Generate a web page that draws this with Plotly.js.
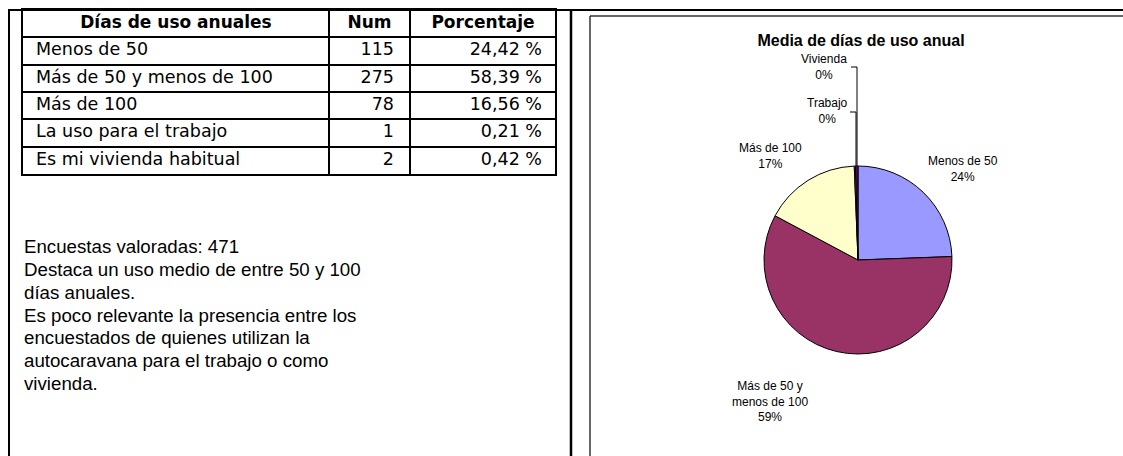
<!DOCTYPE html>
<html>
<head>
<meta charset="utf-8">
<script src="https://cdn.plot.ly/plotly-3.0.1.min.js"></script>
<style>html,body{margin:0;padding:0;background:#fff;}#chart{width:1123px;height:456px;}</style>
</head>
<body>
<div id="chart"></div>
<script>
// ---- data ----
var tableHeader = ["Días de uso anuales", "Num", "Porcentaje"];
var tableCategories = ["Menos de 50", "Más de 50 y menos de 100", "Más de 100", "La uso para el trabajo", "Es mi vivienda habitual"];
var tableNum = [115, 275, 78, 1, 2];
var totalSurveys = 471;

var pieLabels = ["Menos de 50", "Más de 50 y<br>menos de 100", "Más de 100", "Trabajo", "Vivienda"];
var pieValues = [115, 275, 78, 1, 2];
var piePercentLabels = ["24%", "59%", "17%", "0%", "0%"];
var pieColors = ["#9999FF", "#993366", "#FFFFCC", "#CCFFFF", "#660066"];
var chartTitle = "Media de días de uso anual";

var paragraphLines = [
  "Encuestas valoradas: " + totalSurveys,
  "Destaca un uso medio de entre 50 y 100",
  "días anuales.",
  "Es poco relevante la presencia entre los",
  "encuestados de quienes utilizan la",
  "autocaravana para el trabajo o como",
  "vivienda."
];

// ---- helpers (pixel -> paper) ----
var W = 1123, H = 456;
function px(x){ return x / W; }
function py(y){ return 1 - y / H; }

var pctStrings = tableNum.map(function(v){ return (v / totalSurveys * 100).toFixed(2).replace('.', ',') + ' %'; });

var tableFont = "DejaVu Sans, Verdana, sans-serif";
var rowY = tableCategories.map(function(_, i){ return i + 1.5; });

var traces = [];
// header
traces.push({
  type: 'scatter', mode: 'text', xaxis: 'x', yaxis: 'y',
  x: [153, 346.5, 460], y: [0.5, 0.5, 0.5],
  text: tableHeader.map(function(t){ return '<b>' + t + '</b>'; }),
  textposition: 'middle center',
  textfont: {family: tableFont, size: 17, color: '#000'},
  hoverinfo: 'skip', showlegend: false, cliponaxis: false
});
// categories
traces.push({
  type: 'scatter', mode: 'text', xaxis: 'x', yaxis: 'y',
  x: tableCategories.map(function(){ return 13; }), y: rowY,
  text: tableCategories, textposition: 'middle right',
  textfont: {family: tableFont, size: 17.5, color: '#000'},
  hoverinfo: 'skip', showlegend: false, cliponaxis: false
});
// numbers
traces.push({
  type: 'scatter', mode: 'text', xaxis: 'x', yaxis: 'y',
  x: tableNum.map(function(){ return 371; }), y: rowY,
  text: tableNum.map(String), textposition: 'middle left',
  textfont: {family: tableFont, size: 17.5, color: '#000'},
  hoverinfo: 'skip', showlegend: false, cliponaxis: false
});
// percentages
traces.push({
  type: 'scatter', mode: 'text', xaxis: 'x', yaxis: 'y',
  x: pctStrings.map(function(){ return 519; }), y: rowY,
  text: pctStrings, textposition: 'middle left',
  textfont: {family: tableFont, size: 17.5, color: '#000'},
  hoverinfo: 'skip', showlegend: false, cliponaxis: false
});
// pie
var cx = 858, cy = 260, R = 94;
traces.push({
  type: 'pie', labels: pieLabels, values: pieValues,
  sort: false, direction: 'clockwise', rotation: 0,
  textinfo: 'none', hoverinfo: 'none', showlegend: false,
  marker: {colors: pieColors, line: {color: '#000', width: 1}},
  domain: {x: [px(cx - R), px(cx + R)], y: [py(cy + R), py(cy - R)]}
});

var labelFont = {family: "Liberation Sans, Arial, sans-serif", size: 12, color: '#000'};
var labelPos = [[963, 169], [770, 401], [771, 156], [827, 111], [824, 67]];
var annotations = [];
pieLabels.forEach(function(l, i){
  annotations.push({
    xref: 'paper', yref: 'paper', x: px(labelPos[i][0]), y: py(labelPos[i][1]),
    xanchor: 'center', yanchor: 'middle', showarrow: false,
    text: l + '<br>' + piePercentLabels[i], font: labelFont, align: 'center'
  });
});
paragraphLines.forEach(function(t, i){
  annotations.push({
    xref: 'paper', yref: 'paper', x: px(22), y: py(247 + i * 22.7),
    xanchor: 'left', yanchor: 'middle', showarrow: false,
    text: t, font: {family: "Liberation Sans, Arial, sans-serif", size: 18.7, color: '#000'}
  });
});

var shapes = [
  // document frame
  {type: 'line', xref: 'paper', yref: 'paper', x0: px(8), x1: px(1123), y0: py(10), y1: py(10), line: {color: '#000', width: 2}},
  {type: 'line', xref: 'paper', yref: 'paper', x0: px(9), x1: px(9), y0: py(10), y1: py(456), line: {color: '#000', width: 2}},
  {type: 'line', xref: 'paper', yref: 'paper', x0: px(571), x1: px(571), y0: py(10), y1: py(456), line: {color: '#000', width: 2.5}},
  // chart box
  {type: 'line', xref: 'paper', yref: 'paper', x0: px(590), x1: px(1123), y0: py(16), y1: py(16), line: {color: '#333', width: 1.5}},
  {type: 'line', xref: 'paper', yref: 'paper', x0: px(590), x1: px(590), y0: py(16), y1: py(456), line: {color: '#333', width: 1.5}},
  // leader lines
  {type: 'path', xref: 'paper', yref: 'paper', path: 'M ' + px(851) + ' ' + py(67) + ' L ' + px(857) + ' ' + py(67) + ' L ' + px(857) + ' ' + py(166), line: {color: '#000', width: 1}},
  {type: 'path', xref: 'paper', yref: 'paper', path: 'M ' + px(850) + ' ' + py(112) + ' L ' + px(856) + ' ' + py(112) + ' L ' + px(856) + ' ' + py(166), line: {color: '#000', width: 1}}
];

var gridAxis = {showgrid: true, gridcolor: '#000', gridwidth: 2, showticklabels: false, ticks: '',
  zeroline: false, showline: true, mirror: true, linecolor: '#000', linewidth: 2, fixedrange: true};

var layout = {
  width: W, height: H,
  margin: {l: 0, r: 0, t: 0, b: 0, pad: 0},
  paper_bgcolor: '#fff', plot_bgcolor: '#fff',
  showlegend: false,
  title: {text: '<b>' + chartTitle + '</b>', x: px(861), y: py(40), xanchor: 'center', yanchor: 'middle',
    xref: 'paper', yref: 'paper', font: {family: "Liberation Sans, Arial, sans-serif", size: 16, color: '#000'}},
  xaxis: Object.assign({}, gridAxis, {domain: [px(23), px(555)], range: [0, 532], tickvals: [306, 387]}),
  yaxis: Object.assign({}, gridAxis, {domain: [py(174), py(10)], range: [6, 0], tickvals: [1, 2, 3, 4, 5]}),
  shapes: shapes,
  annotations: annotations
};

Plotly.newPlot('chart', traces, layout, {staticPlot: true, displayModeBar: false});
</script>
</body>
</html>
